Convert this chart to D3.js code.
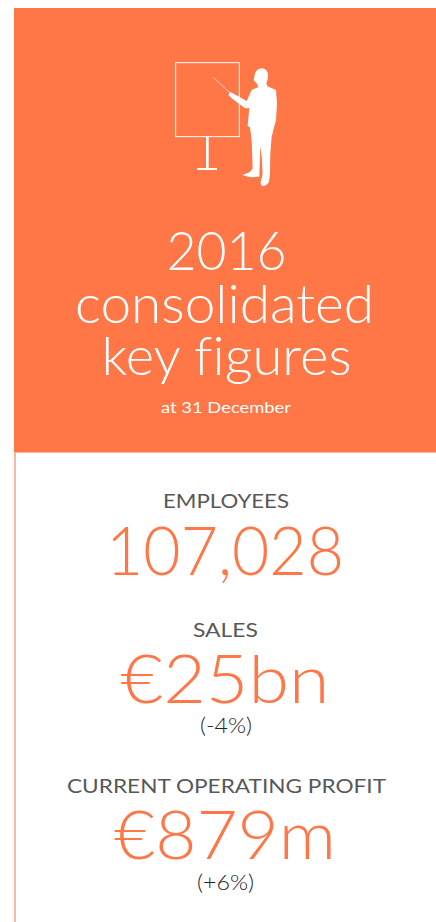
<!DOCTYPE html>
<html>
<head>
<meta charset="utf-8">
<script src="https://cdn.jsdelivr.net/npm/d3@7"></script>
<style>
html,body{margin:0;padding:0;background:#fff;}
svg{display:block;}
text{font-family:"Lato",sans-serif;text-anchor:middle;font-variant-ligatures:none;}
</style>
</head>
<body>
<script>
const titleLines = ["2016","consolidated","key figures"];
const subtitle = "at 31 December";
const metricLabels = ["EMPLOYEES","SALES","CURRENT OPERATING PROFIT"];
const metricValues = ["107,028","€25bn","€879m"];
const metricChanges = ["","(-4%)","(+6%)"];

const orange = "#ff7647";
const edge = "#ffb69e";
const grey = "#58585a";

const titleX = [226.5,224.5,226.5];
const titleY = [270,323,375];
const titleWidths = [120,299,250];
const labelX = [226,225.5,226.5];
const labelY = [508,637,793];
const labelWidths = [126,65,319];
const valueX = [225,225,225];
const valueY = [575,703,859];
const valueWidths = [238,209,222];
const changeX = [0,226,225.5];
const changeY = [0,733,890];
const changeWidths = [0,52,57];

const svg = d3.select("body").append("svg").attr("width",436).attr("height",922);

svg.append("rect").attr("x",14).attr("y",8).attr("width",422).attr("height",444).attr("fill",orange);
svg.append("line").attr("x1",15).attr("x2",15).attr("y1",452).attr("y2",922).attr("stroke",edge).attr("stroke-width",2);
svg.append("line").attr("x1",14).attr("x2",436).attr("y1",452.5).attr("y2",452.5).attr("stroke",edge).attr("stroke-width",1);

const addText = (str,x,y,size,fill,weight,width) =>
{
    return svg.append("text").text(str).attr("x",x).attr("y",y)
        .attr("fill",fill).attr("font-size",size).attr("font-weight",weight)
        .attr("textLength",width).attr("lengthAdjust","spacingAndGlyphs");
}

titleLines.forEach((t,i)=>addText(t,titleX[i],titleY[i],53,"#fff",300,titleWidths[i]));
addText(subtitle,226,413,16,"#fff",400,130);

metricLabels.forEach((t,i)=>{
    addText(t,labelX[i],labelY[i],20,grey,400,labelWidths[i]);
    addText(metricValues[i],valueX[i],valueY[i],67,orange,300,valueWidths[i]);
    if (metricChanges[i]) addText(metricChanges[i],changeX[i],changeY[i],22,"#222",300,changeWidths[i]);
});

// presenter icon, traced in 3x crop coordinates
const icon = svg.append("g").attr("transform","translate(150,40) scale(0.3333)");
icon.append("rect").attr("x",77).attr("y",68).attr("width",191).attr("height",222)
    .attr("fill","none").attr("stroke","#fff").attr("stroke-width",3);
icon.append("rect").attr("x",168).attr("y",290).attr("width",8).attr("height",96).attr("fill","#fff");
icon.append("rect").attr("x",141).attr("y",384).attr("width",60).attr("height",6).attr("fill","#fff");
icon.append("line").attr("x1",190).attr("y1",112).attr("x2",238).attr("y2",157).attr("stroke","#fff").attr("stroke-width",2);
icon.append("path").attr("fill","#fff")
    .attr("d","M335 85 Q352 86 354 104 Q354 120 349 130 L352 139 L378 150 L381 190 L378 240 L365 290 L361 340 L360 400 L357 425 Q350 438 338 438 Q329 436 333 422 L338 402 L335 350 L331 318 L328 410 L300 412 L277 405 L300 396 L308 385 L305 300 L300 262 L293 258 L298 205 L285 205 L245 175 L235 165 L240 155 L290 183 L305 150 L325 141 L320 130 L311 121 L315 100 Q320 87 335 85 Z");
</script>
</body>
</html>
